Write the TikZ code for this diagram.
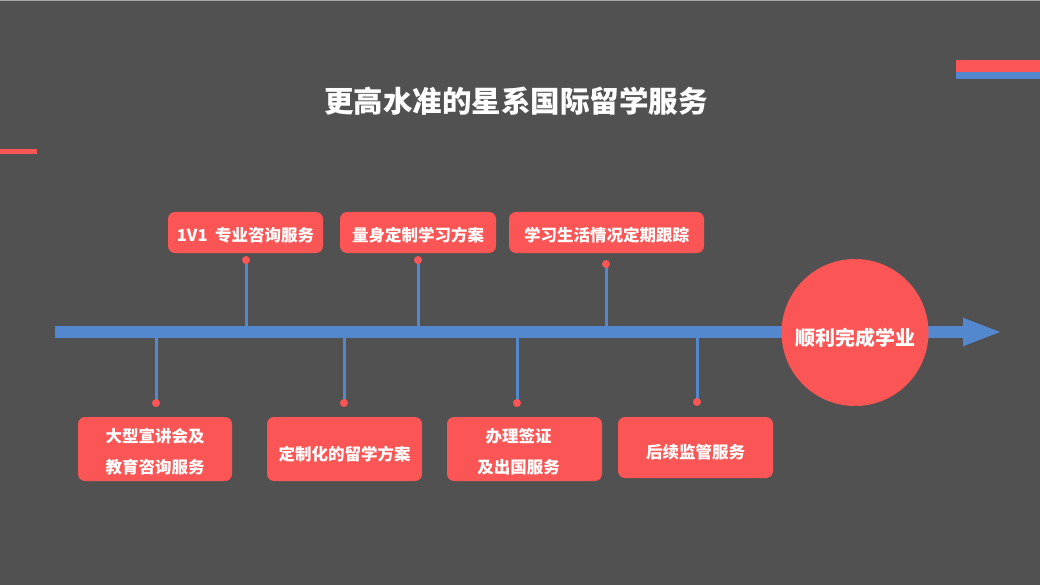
\documentclass[tikz,border=0pt]{standalone}
\usepackage{fontspec}
\newfontfamily\cjk{Noto Sans CJK SC}
\usetikzlibrary{arrows.meta}
\definecolor{bg}{RGB}{81,81,81}
\definecolor{accred}{RGB}{252,85,85}
\definecolor{accblue}{RGB}{84,136,206}
\tikzset{
  box/.style={fill=accred, rounded corners=7pt, inner sep=0pt},
  boxtext/.style={text=white, align=center, inner sep=0pt,
    font=\cjk\bfseries\fontsize{16.5}{31}\selectfont},
  stem/.style={draw=accblue, line width=3pt},
  dot/.style={circle, fill=accred, inner sep=0pt, minimum size=8pt},
  timeline/.style={draw=accblue, line width=12pt, -{Triangle[length={40pt 0 0}, width={25pt 0 0}]}},
}
\begin{document}
\begin{tikzpicture}[x=1pt, y=-1pt]
\useasboundingbox (0,0) rectangle (1040,585);
\fill[bg] (0,0) rectangle (1040,585);
\fill[gray!70] (0,0) rectangle (1040,1.5);
% decorations
\fill[accred] (956,60) rectangle (1040,72);
\fill[accblue] (956,72) rectangle (1040,79);
\fill[accred] (0,149) rectangle (37,154);
% title
\node[text=white, font=\cjk\bfseries\fontsize{29.5}{34}\selectfont] (title) at (516,101) {更高水准的星系国际留学服务};
% timeline coordinates
\coordinate (barL) at (55,332);
\coordinate (barR) at (1003,332);
\coordinate (p1) at (246,260);
\coordinate (p2) at (418,260);
\coordinate (p3) at (606,264);
\coordinate (q1) at (156,403);
\coordinate (q2) at (344,403);
\coordinate (q3) at (517,403);
\coordinate (q4) at (697,402);
% stems
\foreach \p in {p1,p2,p3,q1,q2,q3,q4}
  \draw[stem] (\p) -- (\p |- barL);
% main bar
\draw[timeline] (barL) -- (barR);
% dots
\foreach \p in {p1,p2,p3,q1,q2,q3,q4}
  \node[dot] (d\p) at (\p) {};
% top boxes
\node[box, minimum width=155pt, minimum height=41pt] (t1) at (245.5,232.5) {};
\node[box, minimum width=156pt, minimum height=41pt] (t2) at (418,232.5) {};
\node[box, minimum width=195pt, minimum height=41pt] (t3) at (606.5,232.5) {};
\node[boxtext] (t1t) at ([yshift=-3pt]t1.center) {1V1\ \ 专业咨询服务};
\node[boxtext] (t2t) at ([yshift=-3pt]t2.center) {量身定制学习方案};
\node[boxtext] (t3t) at ([yshift=-3pt]t3.center) {学习生活情况定期跟踪};
% bottom boxes
\node[box, minimum width=154pt, minimum height=64pt] (b1) at (155,449) {};
\node[box, minimum width=155pt, minimum height=64pt] (b2) at (344.5,449) {};
\node[box, minimum width=155pt, minimum height=64pt] (b3) at (524.5,449) {};
\node[box, minimum width=155pt, minimum height=61pt] (b4) at (695.5,447.5) {};
\node[boxtext] (b1t) at ([yshift=-2.5pt]b1.center) {大型宣讲会及\\教育咨询服务};
\node[boxtext] (b2t) at ([yshift=-5pt]b2.center) {定制化的留学方案};
\node[boxtext] (b3t) at ([xshift=-6pt,yshift=-2.5pt]b3.center) {办理签证\\及出国服务};
\node[boxtext] (b4t) at ([yshift=-5pt]b4.center) {后续监管服务};
% goal circle
\node[circle, fill=accred, minimum size=147pt, inner sep=0pt] (goal) at (855,332.5) {};
\node[text=white, inner sep=0pt, font=\cjk\bfseries\fontsize{20}{24}\selectfont] (goalt) at ([yshift=-5.5pt]goal.center) {顺利完成学业};
\end{tikzpicture}
\end{document}
